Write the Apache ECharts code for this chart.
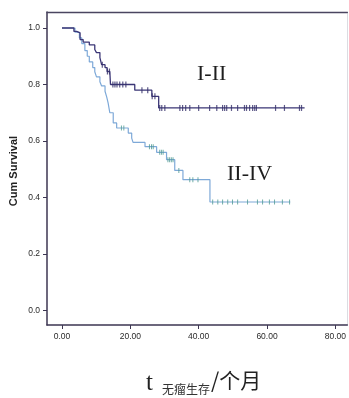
<!DOCTYPE html>
<html><head><meta charset="utf-8">
<script src="https://cdn.jsdelivr.net/npm/echarts@6/dist/echarts.min.js"></script>
<style>html,body{margin:0;padding:0;background:#fff}#c{width:349px;height:398px}</style>
</head><body><div id="c"></div>
<script>
// Group I-II (step points: time in months, cumulative survival after the event)
var timesI = [0, 3.5, 4.3, 5.3, 6.2, 8.0, 9.6, 10.1, 11.1, 11.6, 12.6, 13.2, 14.0, 14.2, 21.3, 26.3, 28.3, 71.0];
var survI  = [1.0, 0.988, 0.983, 0.959, 0.95, 0.94, 0.924, 0.913, 0.895, 0.87, 0.86, 0.846, 0.842, 0.80, 0.78, 0.758, 0.717, 0.717];
var censI  = [11.8, 13.3, 13.9, 14.9, 15.5, 16.1, 16.9, 17.8, 18.7, 23.4, 25.1, 26.4, 27.2, 28.6, 29.2, 30.1, 34.5, 35.3, 36.2, 37.4, 40.0, 43.2, 45.3, 47.0, 47.6, 48.2, 49.6, 51.4, 53.4, 54.0, 54.9, 55.8, 56.4, 56.9, 62.5, 65.1, 69.5, 70.1];
// Group II-IV
var timesII = [0, 3.8, 5.1, 5.8, 6.7, 7.4, 8.0, 9.0, 9.6, 10.1, 11.1, 11.6, 12.6, 13.1, 13.5, 14.0, 15.0, 16.0, 19.4, 20.4, 20.8, 24.3, 27.7, 30.6, 33.0, 35.4, 43.3, 66.8];
var survII  = [1.0, 0.985, 0.965, 0.945, 0.92, 0.9, 0.88, 0.86, 0.845, 0.827, 0.81, 0.795, 0.776, 0.755, 0.735, 0.70, 0.664, 0.646, 0.628, 0.61, 0.595, 0.58, 0.56, 0.534, 0.496, 0.463, 0.384, 0.384];
var censII  = [17.4, 18.1, 25.6, 26.2, 26.7, 28.6, 29.1, 29.6, 31.0, 31.5, 32.0, 32.5, 34.2, 37.4, 38.3, 39.8, 44.1, 45.6, 47.0, 48.5, 49.9, 51.4, 54.3, 57.2, 58.7, 60.7, 62.2, 64.5, 66.6];
var xTicks = [0, 20, 40, 60, 80];
var yTicks = [0, 0.2, 0.4, 0.6, 0.8, 1.0];

function pairs(t, s){ return t.map(function(v,i){ return [v, s[i]]; }); }
function survAt(t, times, surv){ var v = surv[0]; for (var i=0;i<times.length;i++){ if (times[i] <= t) v = surv[i]; } return v; }
function cens(c, times, surv){ return c.map(function(t){ return [t, survAt(t, times, surv)]; }); }

var axisCol = '#3d3652';
var lblStyle = {color:'#2a2a2a', fontSize:8.5, fontFamily:'Liberation Sans, Arial, sans-serif'};
var chart = echarts.init(document.getElementById('c'), null, {renderer:'canvas'});
chart.setOption({
  animation:false,
  backgroundColor:'#fff',
  grid:{left:47, top:12, right:1, bottom:73, containLabel:false},
  xAxis:[{
    type:'value', min:-4.38, max:83.5, position:'bottom',
    axisLine:{show:true, onZero:false, lineStyle:{color:axisCol, width:1.5}},
    axisTick:{show:true, length:4, customValues:xTicks, lineStyle:{color:axisCol}},
    axisLabel:Object.assign({customValues:xTicks, margin:7, formatter:function(v){return v.toFixed(2);}}, lblStyle),
    splitLine:{show:false}
  },{
    type:'value', min:-4.38, max:83.5, position:'top',
    axisLine:{show:true, onZero:false, lineStyle:{color:'#4a4560', width:1.3}},
    axisTick:{show:false}, axisLabel:{show:false}, splitLine:{show:false}
  }],
  yAxis:[{
    type:'value', min:-0.0513, max:1.0566, position:'left',
    axisLine:{show:true, onZero:false, lineStyle:{color:axisCol, width:1.5}},
    axisTick:{show:true, length:4, customValues:yTicks, lineStyle:{color:axisCol}},
    axisLabel:Object.assign({customValues:yTicks, margin:7, formatter:function(v){return v.toFixed(1);}}, lblStyle),
    splitLine:{show:false}
  },{
    type:'value', min:-0.0513, max:1.0566, position:'right',
    axisLine:{show:true, onZero:false, lineStyle:{color:'#dcdce2', width:1}},
    axisTick:{show:false}, axisLabel:{show:false}, splitLine:{show:false}
  }],
  series:[
    {type:'line', step:'end', data:pairs(timesII, survII), showSymbol:false, symbol:'none',
     lineStyle:{color:'#7ea9d8', width:1.2}, z:2},
    {type:'line', step:'end', data:pairs(timesI, survI), showSymbol:false, symbol:'none',
     lineStyle:{color:'#3b3676', width:1.3}, z:3},
    {type:'scatter', data:cens(censII, timesII, survII), symbol:'rect', symbolSize:[1,5],
     itemStyle:{color:'#4f9a92'}, z:4},
    {type:'scatter', data:cens(censI, timesI, survI), symbol:'rect', symbolSize:[1.2,6],
     itemStyle:{color:'#342f6a'}, z:5}
  ],
  graphic:[
    {type:'text', left:197, top:63, style:{text:'I-II', fill:'#1e1e1e', font:'22px "Liberation Serif", "DejaVu Serif", serif'}},
    {type:'text', left:227, top:163, style:{text:'II-IV', fill:'#1e1e1e', font:'22px "Liberation Serif", "DejaVu Serif", serif'}},
    {type:'text', x:14, y:171, rotation:Math.PI/2, style:{text:'Cum Survival', fill:'#222', align:'center', verticalAlign:'middle', font:'bold 11px "Liberation Sans", Arial, sans-serif'}},
    {type:'text', left:146, top:371, style:{text:'t', fill:'#222', font:'25px "Liberation Serif", serif'}},
    {type:'text', left:162, top:383, style:{text:'无瘤生存', fill:'#333', font:'12px "Noto Sans CJK SC", sans-serif'}},
    {type:'text', left:211, top:370, style:{text:'/个月', fill:'#222', font:'21px "Noto Sans CJK SC", sans-serif'}}
  ]
});
</script></body></html>
